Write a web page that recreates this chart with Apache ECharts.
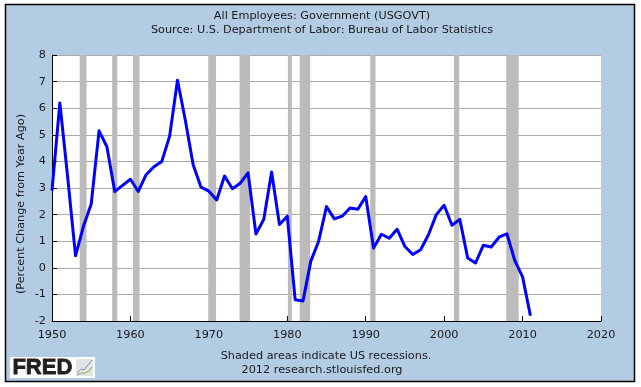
<!DOCTYPE html>
<html>
<head>
<meta charset="utf-8">
<style>html,body{margin:0;padding:0;background:#fff}#c{width:641px;height:387px}</style>
<script src="https://cdn.jsdelivr.net/npm/echarts@6/dist/echarts.min.js"></script>
</head>
<body>
<div id="c"></div>
<script>
const years = [1950,1951,1952,1953,1954,1955,1956,1957,1958,1959,
  1960,1961,1962,1963,1964,1965,1966,1967,1968,1969,
  1970,1971,1972,1973,1974,1975,1976,1977,1978,1979,
  1980,1981,1982,1983,1984,1985,1986,1987,1988,1989,
  1990,1991,1992,1993,1994,1995,1996,1997,1998,1999,
  2000,2001,2002,2003,2004,2005,2006,2007,2008,2009,
  2010,2011];
const pctChange = [2.9,6.2,3.4,0.45,1.55,2.4,5.15,4.55,2.87,3.1,
  3.33,2.87,3.5,3.8,4.0,4.95,7.05,5.55,3.87,3.03,
  2.88,2.55,3.45,2.97,3.18,3.57,1.27,1.82,3.6,1.63,
  1.94,-1.2,-1.25,0.25,1.0,2.3,1.84,1.94,2.25,2.2,
  2.68,0.74,1.26,1.11,1.45,0.8,0.5,0.68,1.24,2.0,
  2.35,1.6,1.82,0.37,0.18,0.85,0.78,1.15,1.28,0.28,
  -0.34,-1.8];
const recessionStart = [1953.53,1957.67,1960.33,1969.92,1973.92,1980.08,1981.58,1990.58,2001.25,2007.92];
const recessionEnd   = [1954.40,1958.33,1961.17,1970.92,1975.25,1980.58,1982.92,1991.25,2001.92,2009.50];
const titleLines = ['All Employees: Government (USGOVT)','Source: U.S. Department of Labor: Bureau of Labor Statistics'];
const footerLines = ['Shaded areas indicate US recessions.','2012 research.stlouisfed.org'];
const yAxisTitle = '(Percent Change from Year Ago)';

const font = '"DejaVu Sans"';
const fs = 11.25;
const ink = '#1a1a1a';
const textAt = (text, x, y) => ({left:x, top:y, text, textAlign:'center', padding:0,
  textStyle:{fontFamily:font, fontSize:fs, fontWeight:'normal', color:ink}});

const chart = echarts.init(document.getElementById('c'), null, {renderer:'canvas'});
chart.setOption({
  animation:false,
  backgroundColor:'#ffffff',
  title:[textAt(titleLines[0],322,11),textAt(titleLines[1],322,25),
         textAt(footerLines[0],326,351),textAt(footerLines[1],322,365)],
  graphic:[
    {type:'rect', z:-10, silent:true, shape:{x:5.5,y:4.5,width:629,height:377},
     style:{fill:'#b2cce4', stroke:'#000', lineWidth:1.5}},
    {type:'rect', z:1, silent:true, shape:{x:10,y:357,width:85,height:21}, style:{fill:'#fff'}},
    {type:'text', z:2, silent:true, left:12, top:357,
     style:{text:'FRED', font:'900 22px "Liberation Sans"', fill:'#231f20', stroke:'#231f20', lineWidth:0.8}},
    {type:'rect', z:2, silent:true, shape:{x:76,y:359,width:17,height:17}, style:{fill:'#e4e4e4'}},
    {type:'polyline', z:3, silent:true, shape:{points:[[77,373],[81,369],[84,370],[88,365],[92,360]]},
     style:{fill:'none', stroke:'#6f94bf', lineWidth:1}},
    {type:'polyline', z:3, silent:true, shape:{points:[[77,375],[81,373],[85,373],[89,371],[92,367]]},
     style:{fill:'none', stroke:'#8fa85c', lineWidth:1}}
  ],
  grid:{left:52, top:55, width:549, height:266, show:true, backgroundColor:'#ffffff', borderWidth:0},
  xAxis:{type:'value', min:1950, max:2020, interval:10,
    axisLine:{show:true, onZero:false, lineStyle:{color:'#000', width:1}},
    axisTick:{show:true, inside:true, length:5, lineStyle:{color:'#000'}},
    axisLabel:{fontFamily:font, fontSize:fs, color:ink, margin:9, formatter:v=>String(v), showMinLabel:true, showMaxLabel:true},
    splitLine:{show:false}},
  yAxis:{type:'value', min:-2, max:8, interval:1,
    name:yAxisTitle, nameLocation:'middle', nameGap:25, nameRotate:90, nameMoveOverlap:false,
    nameTextStyle:{fontFamily:font, fontSize:fs, color:ink, padding:[0,32,0,0]},
    axisLine:{show:true, onZero:false, lineStyle:{color:'#000', width:1}},
    axisTick:{show:true, inside:true, length:5, lineStyle:{color:'#000'}},
    axisLabel:{fontFamily:font, fontSize:fs, color:ink, margin:6},
    splitLine:{show:true, lineStyle:{color:'#aaaaaa', width:1, type:'solid'}}},
  series:[{
    type:'line', name:'USGOVT', data:years.map((y,i)=>[y,pctChange[i]]),
    showSymbol:false, symbol:'none', clip:false, smooth:false, z:5,
    lineStyle:{color:'#0000ff', width:3, join:'round'},
    markArea:{silent:true, z:1, itemStyle:{color:'#bbbbbb', opacity:1},
      data:recessionStart.map((s,i)=>[{xAxis:s},{xAxis:recessionEnd[i]}])}
  }]
});
</script>
</body>
</html>
